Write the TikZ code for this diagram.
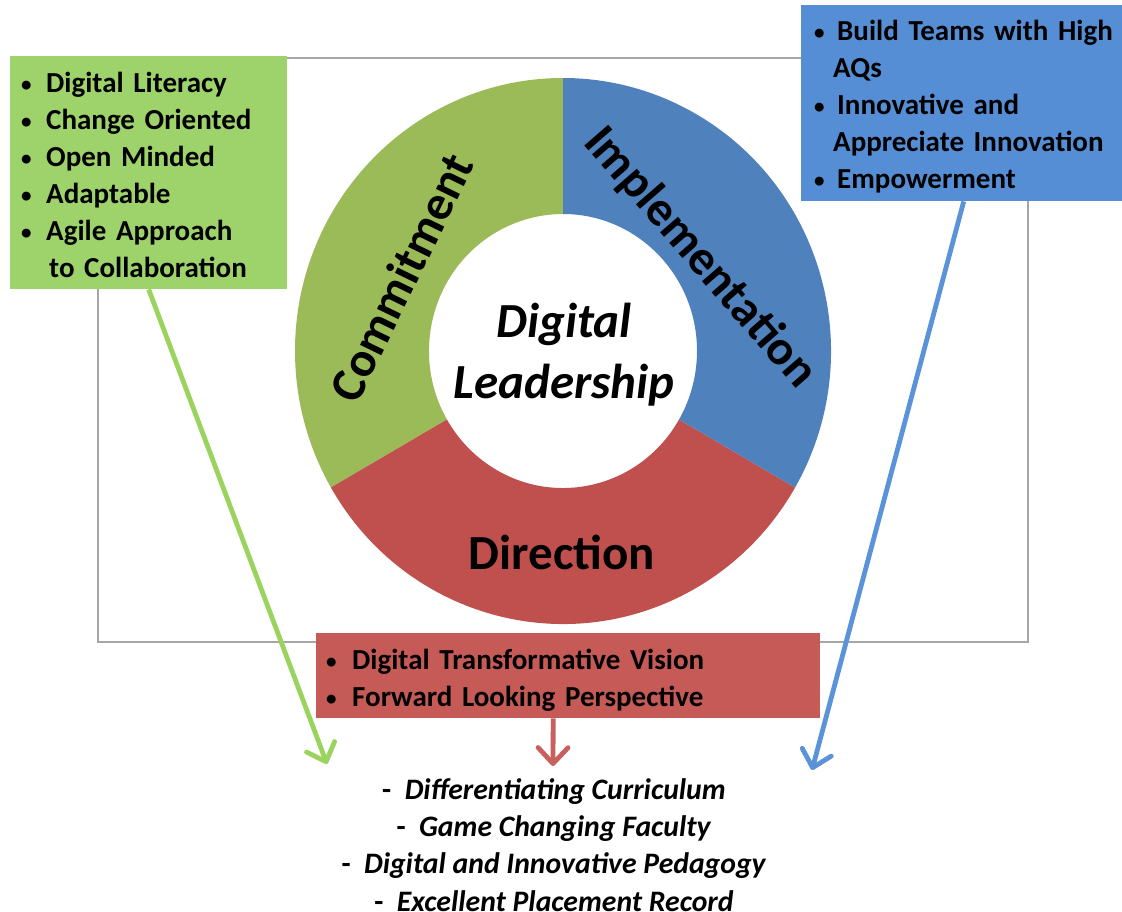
\documentclass[tikz,border=0pt]{standalone}
\usepackage{fontspec}
\setmainfont{Carlito}
\usetikzlibrary{arrows.meta}
\definecolor{ringG}{HTML}{9BBB59}
\definecolor{ringB}{HTML}{4F81BD}
\definecolor{ringR}{HTML}{C0504D}
\definecolor{boxG}{HTML}{9DD36A}
\definecolor{boxB}{HTML}{558ED5}
\definecolor{boxR}{HTML}{C55A57}
\definecolor{arrG}{HTML}{9BD35F}
\definecolor{arrB}{HTML}{5B93D8}
\definecolor{arrR}{HTML}{C9605D}
\definecolor{frameC}{HTML}{A6A6A6}
\newcommand\bitem[2]{\mbox{\makebox[#1][l]{\hspace*{1pt}{\fontsize{21}{21}\selectfont\raisebox{1pt}{•}}}#2}}
\begin{document}
\begin{tikzpicture}[x=1pt,y=1pt,
  frame/.style={draw=frameC,line width=1.3pt},
  ringlbl/.style={font=\fontsize{49}{58}\selectfont\bfseries,inner sep=0pt},
  centerlbl/.style={font=\fontsize{49}{61}\selectfont\bfseries\itshape,align=center,inner sep=0pt},
  listbox/.style={anchor=north west,align=left,inner ysep=0pt,
    font=\fontsize{29}{37}\selectfont\bfseries},
  outtext/.style={align=center,inner sep=0pt,
    font=\fontsize{29.7}{37.3}\selectfont\bfseries},
  arr/.style={line width=4.8pt,-{Straight Barb[length=16pt,width=30pt,round]}},
]
\useasboundingbox (0,0) rectangle (1122,-912);
\draw[frame] (98,-58) rectangle (1028,-642);
% ring
\begin{scope}[shift={(563,-351)}]
\fill[ringG] (90:268 and 273) arc[start angle=90,end angle=210,x radius=268,y radius=273]
  -- (210:134 and 137) arc[start angle=210,end angle=90,x radius=134,y radius=137] -- cycle;
\fill[ringR] (210:268 and 273) arc[start angle=210,end angle=330,x radius=268,y radius=273]
  -- (330:134 and 137) arc[start angle=330,end angle=210,x radius=134,y radius=137] -- cycle;
\fill[ringB] (330:268 and 273) arc[start angle=330,end angle=450,x radius=268,y radius=273]
  -- (90:134 and 137) arc[start angle=90,end angle=-30,x radius=134,y radius=137] -- cycle;
\end{scope}
\node[ringlbl,rotate=64] (com) at (401,-277) {Commitment};
\node[ringlbl,rotate=-49] (imp) at (700,-258) {Implementation};
\node[ringlbl] (dir) at (562,-552) {Direction};
\node[centerlbl] (dl) at (564,-355) {Digital\\Leadership};
% boxes
\node[listbox,fill=boxG,minimum width=277pt,minimum height=233pt,text width=257pt,inner xsep=10pt] (gb) at (10,-56)
 {\rule{0pt}{25pt}\bitem{26pt}{Digital Literacy}\\
  \bitem{26pt}{Change Oriented}\\
  \bitem{26pt}{Open Minded}\\
  \bitem{26pt}{Adaptable}\\
  \bitem{26pt}{Agile Approach}\\
  \mbox{\hspace*{29pt}to Collaboration}};
\node[listbox,fill=boxB,minimum width=325pt,minimum height=196pt,text width=301pt,inner xsep=12pt] (bb) at (801,-5)
 {\rule{0pt}{27.5pt}\bitem{24pt}{Build Teams with High}\\
  \mbox{\hspace*{20pt}AQs}\\
  \bitem{24pt}{Innovative and}\\
  \mbox{\hspace*{20pt}Appreciate Innovation}\\
  \bitem{24pt}{Empowerment}};
\node[listbox,fill=boxR,minimum width=504pt,minimum height=85pt,text width=486pt,inner xsep=9pt] (rb) at (316,-633)
 {\rule{0pt}{29pt}\bitem{27pt}{Digital Transformative Vision}\\
  \bitem{27pt}{Forward Looking Perspective}};
% outcomes
\node[outtext] (out) at (554,-845)
 {-~~\textit{Differentiating Curriculum}\\
  -~~\textit{Game Changing Faculty}\\
  -~~\textit{Digital and Innovative Pedagogy}\\
  -~~\textit{Excellent Placement Record}};
% arrows
\coordinate (gtip) at (327,-764);
\coordinate (rtip) at (553,-766);
\coordinate (btip) at (812,-770);
\draw[arr,draw=arrG] (gb.south) -- (gtip);
\draw[arr,draw=arrR] ([xshift=-15pt]rb.south) -- (rtip);
\draw[arr,draw=arrB] (bb.south) -- (btip);
\end{tikzpicture}
\end{document}
